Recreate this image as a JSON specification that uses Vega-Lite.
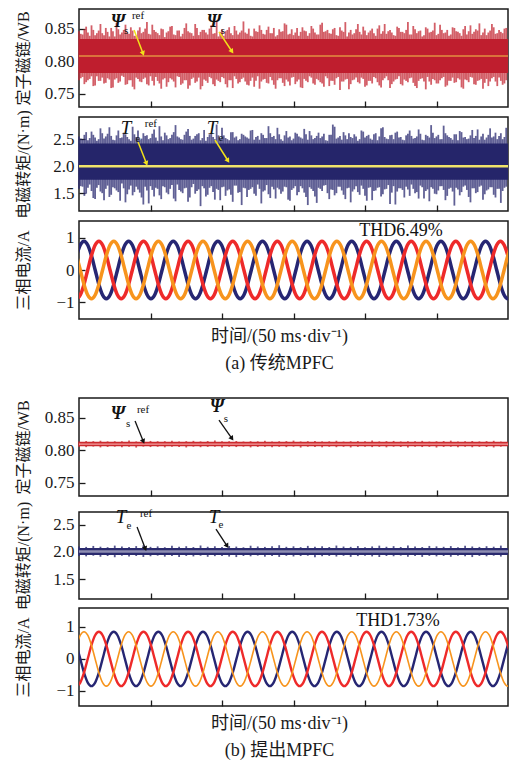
{
"$schema":"https://vega.github.io/schema/vega-lite/v6.json",
"background":"white",
"padding":{"left":14,"top":8,"right":3,"bottom":0},
"config":{
"view":{"stroke":"#1a1a1a","strokeWidth":1.5},
"font":"Liberation Serif",
"axis":{"domain":false,"grid":false,"tickSize":-6,"tickColor":"#1a1a1a","tickWidth":1.3,"labelFont":"Liberation Serif","labelFontSize":17,"labelColor":"#1a1a1a","labelPadding":11,"titleFont":"Liberation Serif, Noto Sans CJK SC","titleFontSize":16,"titleFontWeight":"normal","titleColor":"#1a1a1a"}
},
"datasets":{
"bands":[
{"p":"fa","x0":0,"x1":300,"lo":0.782,"hi":0.834,"ref":0.808},
{"p":"ta","x0":0,"x1":300,"lo":1.75,"hi":2.42,"ref":2.0},
{"p":"fb","x0":0,"x1":300,"lo":0.806,"hi":0.813,"ref":0.8095},
{"p":"tb","x0":0,"x1":300,"lo":1.945,"hi":2.075,"ref":2.01}
],
"arr":[
{"p":"fa","x":38.5,"y":0.848,"x2":44.8,"y2":0.812,"dir":160},
{"p":"fa","x":97.9,"y":0.845,"x2":107.0,"y2":0.815,"dir":145},
{"p":"ta","x":41.3,"y":2.447,"x2":47.2,"y2":2.05,"dir":159},
{"p":"ta","x":95.1,"y":2.484,"x2":104.2,"y2":2.10,"dir":147},
{"p":"fb","x":39.2,"y":0.8448,"x2":45.0,"y2":0.8135,"dir":158},
{"p":"fb","x":97.9,"y":0.8463,"x2":107.0,"y2":0.818,"dir":145},
{"p":"tb","x":40.6,"y":2.462,"x2":46.4,"y2":2.06,"dir":159},
{"p":"tb","x":95.8,"y":2.425,"x2":103.6,"y2":2.11,"dir":148}
],
"ann":[
{"p":"fa","k":"big","s":"Ψ","x":27.3,"y":0.860},
{"p":"fa","k":"sub","s":"s","x":32.9,"y":0.846},
{"p":"fa","k":"sub","s":"ref","x":41.3,"y":0.869},
{"p":"fa","k":"big","s":"Ψ","x":94.4,"y":0.860},
{"p":"fa","k":"sub","s":"s","x":100.7,"y":0.846},
{"p":"ta","k":"big","s":"T","x":32.9,"y":2.706},
{"p":"ta","k":"sub","s":"e","x":41.3,"y":2.503},
{"p":"ta","k":"sub","s":"ref","x":50.3,"y":2.78},
{"p":"ta","k":"big","s":"T","x":93.0,"y":2.706},
{"p":"ta","k":"sub","s":"e","x":99.3,"y":2.521},
{"p":"ca","k":"thd","s":"THD6.49%","x":225.2,"y":1.22},
{"p":"fb","k":"big","s":"Ψ","x":27.3,"y":0.8555},
{"p":"fb","k":"sub","s":"s","x":34.3,"y":0.840},
{"p":"fb","k":"sub","s":"ref","x":44.8,"y":0.8616},
{"p":"fb","k":"big","s":"Ψ","x":96.5,"y":0.866},
{"p":"fb","k":"sub","s":"s","x":102.8,"y":0.8479},
{"p":"tb","k":"big","s":"T","x":29.4,"y":2.647},
{"p":"tb","k":"sub","s":"e","x":35.0,"y":2.481},
{"p":"tb","k":"sub","s":"ref","x":46.9,"y":2.703},
{"p":"tb","k":"big","s":"T","x":94.4,"y":2.647},
{"p":"tb","k":"sub","s":"e","x":99.3,"y":2.499},
{"p":"cb","k":"thd","s":"THD1.73%","x":223.1,"y":1.19}
],
"noiseA":[
{"t":0,"fu":0.846,"fl":0.771,"tu":2.55,"tl":1.58},
{"t":2.5,"fu":0.841,"fl":0.776,"tu":2.49,"tl":1.62},
{"t":5,"fu":0.853,"fl":0.768,"tu":2.63,"tl":1.49},
{"t":7.5,"fu":0.839,"fl":0.773,"tu":2.52,"tl":1.66},
{"t":10,"fu":0.848,"fl":0.762,"tu":2.58,"tl":1.41},
{"t":12.5,"fu":0.843,"fl":0.777,"tu":2.47,"tl":1.60},
{"t":15,"fu":0.857,"fl":0.770,"tu":2.70,"tl":1.53},
{"t":17.5,"fu":0.840,"fl":0.766,"tu":2.51,"tl":1.37},
{"t":20,"fu":0.845,"fl":0.774,"tu":2.60,"tl":1.64},
{"t":22.5,"fu":0.851,"fl":0.759,"tu":2.56,"tl":1.47},
{"t":25,"fu":0.838,"fl":0.772,"tu":2.48,"tl":1.59},
{"t":27.5,"fu":0.849,"fl":0.767,"tu":2.66,"tl":1.52},
{"t":30,"fu":0.844,"fl":0.778,"tu":2.53,"tl":1.68},
{"t":32.5,"fu":0.856,"fl":0.764,"tu":2.59,"tl":1.33},
{"t":35,"fu":0.842,"fl":0.771,"tu":2.50,"tl":1.57},
{"t":37.5,"fu":0.847,"fl":0.761,"tu":2.73,"tl":1.46},
{"t":40,"fu":0.839,"fl":0.775,"tu":2.54,"tl":1.62},
{"t":42.5,"fu":0.852,"fl":0.769,"tu":2.49,"tl":1.51},
{"t":45,"fu":0.845,"fl":0.773,"tu":2.61,"tl":1.29},
{"t":47.5,"fu":0.860,"fl":0.765,"tu":2.57,"tl":1.55},
{"t":50,"fu":0.841,"fl":0.777,"tu":2.52,"tl":1.63},
{"t":52.5,"fu":0.848,"fl":0.763,"tu":2.68,"tl":1.44},
{"t":55,"fu":0.843,"fl":0.770,"tu":2.47,"tl":1.58},
{"t":57.5,"fu":0.850,"fl":0.758,"tu":2.55,"tl":1.39},
{"t":60,"fu":0.837,"fl":0.774,"tu":2.62,"tl":1.61},
{"t":62.5,"fu":0.846,"fl":0.768,"tu":2.50,"tl":1.48},
{"t":65,"fu":0.854,"fl":0.772,"tu":2.58,"tl":1.65},
{"t":67.5,"fu":0.840,"fl":0.760,"tu":2.76,"tl":1.35},
{"t":70,"fu":0.847,"fl":0.776,"tu":2.53,"tl":1.56},
{"t":72.5,"fu":0.842,"fl":0.766,"tu":2.49,"tl":1.50},
{"t":75,"fu":0.858,"fl":0.771,"tu":2.64,"tl":1.60},
{"t":77.5,"fu":0.844,"fl":0.763,"tu":2.56,"tl":1.42},
{"t":80,"fu":0.839,"fl":0.775,"tu":2.51,"tl":1.67},
{"t":82.5,"fu":0.851,"fl":0.769,"tu":2.59,"tl":1.54},
{"t":85,"fu":0.845,"fl":0.757,"tu":2.48,"tl":1.26},
{"t":87.5,"fu":0.848,"fl":0.772,"tu":2.67,"tl":1.59},
{"t":90,"fu":0.841,"fl":0.767,"tu":2.54,"tl":1.47},
{"t":92.5,"fu":0.855,"fl":0.774,"tu":2.60,"tl":1.63},
{"t":95,"fu":0.843,"fl":0.762,"tu":2.50,"tl":1.38},
{"t":97.5,"fu":0.838,"fl":0.770,"tu":2.57,"tl":1.56},
{"t":100,"fu":0.849,"fl":0.776,"tu":2.71,"tl":1.61},
{"t":102.5,"fu":0.846,"fl":0.765,"tu":2.52,"tl":1.45},
{"t":105,"fu":0.852,"fl":0.771,"tu":2.48,"tl":1.57},
{"t":107.5,"fu":0.840,"fl":0.759,"tu":2.63,"tl":1.34},
{"t":110,"fu":0.847,"fl":0.773,"tu":2.55,"tl":1.64},
{"t":112.5,"fu":0.844,"fl":0.768,"tu":2.50,"tl":1.52},
{"t":115,"fu":0.861,"fl":0.775,"tu":2.58,"tl":1.60},
{"t":117.5,"fu":0.842,"fl":0.764,"tu":2.53,"tl":1.43},
{"t":120,"fu":0.839,"fl":0.770,"tu":2.66,"tl":1.58},
{"t":122.5,"fu":0.850,"fl":0.761,"tu":2.49,"tl":1.49},
{"t":125,"fu":0.845,"fl":0.777,"tu":2.56,"tl":1.66},
{"t":127.5,"fu":0.848,"fl":0.769,"tu":2.61,"tl":1.31},
{"t":130,"fu":0.841,"fl":0.773,"tu":2.52,"tl":1.55},
{"t":132.5,"fu":0.853,"fl":0.766,"tu":2.74,"tl":1.48},
{"t":135,"fu":0.843,"fl":0.771,"tu":2.54,"tl":1.62},
{"t":137.5,"fu":0.838,"fl":0.758,"tu":2.50,"tl":1.40},
{"t":140,"fu":0.849,"fl":0.774,"tu":2.59,"tl":1.57},
{"t":142.5,"fu":0.846,"fl":0.767,"tu":2.47,"tl":1.53},
{"t":145,"fu":0.856,"fl":0.772,"tu":2.65,"tl":1.61},
{"t":147.5,"fu":0.842,"fl":0.763,"tu":2.55,"tl":1.36},
{"t":150,"fu":0.840,"fl":0.776,"tu":2.51,"tl":1.59},
{"t":152.5,"fu":0.851,"fl":0.769,"tu":2.60,"tl":1.46},
{"t":155,"fu":0.845,"fl":0.760,"tu":2.53,"tl":1.63},
{"t":157.5,"fu":0.847,"fl":0.773,"tu":2.69,"tl":1.51},
{"t":160,"fu":0.839,"fl":0.768,"tu":2.49,"tl":1.28},
{"t":162.5,"fu":0.854,"fl":0.775,"tu":2.57,"tl":1.58},
{"t":165,"fu":0.844,"fl":0.764,"tu":2.52,"tl":1.44},
{"t":167.5,"fu":0.841,"fl":0.771,"tu":2.62,"tl":1.60},
{"t":170,"fu":0.859,"fl":0.766,"tu":2.55,"tl":1.54},
{"t":172.5,"fu":0.846,"fl":0.777,"tu":2.48,"tl":1.65},
{"t":175,"fu":0.843,"fl":0.762,"tu":2.58,"tl":1.39},
{"t":177.5,"fu":0.849,"fl":0.770,"tu":2.77,"tl":1.56},
{"t":180,"fu":0.840,"fl":0.774,"tu":2.51,"tl":1.50},
{"t":182.5,"fu":0.852,"fl":0.756,"tu":2.56,"tl":1.62},
{"t":185,"fu":0.845,"fl":0.769,"tu":2.63,"tl":1.47},
{"t":187.5,"fu":0.838,"fl":0.773,"tu":2.50,"tl":1.59},
{"t":190,"fu":0.848,"fl":0.765,"tu":2.54,"tl":1.33},
{"t":192.5,"fu":0.843,"fl":0.772,"tu":2.59,"tl":1.57},
{"t":195,"fu":0.857,"fl":0.768,"tu":2.47,"tl":1.52},
{"t":197.5,"fu":0.841,"fl":0.775,"tu":2.66,"tl":1.64},
{"t":200,"fu":0.847,"fl":0.761,"tu":2.53,"tl":1.45},
{"t":202.5,"fu":0.844,"fl":0.770,"tu":2.58,"tl":1.60},
{"t":205,"fu":0.850,"fl":0.766,"tu":2.49,"tl":1.37},
{"t":207.5,"fu":0.839,"fl":0.774,"tu":2.61,"tl":1.55},
{"t":210,"fu":0.855,"fl":0.763,"tu":2.55,"tl":1.61},
{"t":212.5,"fu":0.846,"fl":0.771,"tu":2.72,"tl":1.48},
{"t":215,"fu":0.842,"fl":0.777,"tu":2.51,"tl":1.58},
{"t":217.5,"fu":0.848,"fl":0.759,"tu":2.57,"tl":1.30},
{"t":220,"fu":0.840,"fl":0.769,"tu":2.50,"tl":1.63},
{"t":222.5,"fu":0.853,"fl":0.773,"tu":2.64,"tl":1.53},
{"t":225,"fu":0.845,"fl":0.765,"tu":2.54,"tl":1.59},
{"t":227.5,"fu":0.843,"fl":0.772,"tu":2.48,"tl":1.42},
{"t":230,"fu":0.860,"fl":0.768,"tu":2.60,"tl":1.57},
{"t":232.5,"fu":0.841,"fl":0.775,"tu":2.56,"tl":1.66},
{"t":235,"fu":0.849,"fl":0.762,"tu":2.52,"tl":1.50},
{"t":237.5,"fu":0.846,"fl":0.770,"tu":2.68,"tl":1.40},
{"t":240,"fu":0.838,"fl":0.774,"tu":2.49,"tl":1.61},
{"t":242.5,"fu":0.852,"fl":0.757,"tu":2.58,"tl":1.54},
{"t":245,"fu":0.844,"fl":0.769,"tu":2.53,"tl":1.35},
{"t":247.5,"fu":0.847,"fl":0.773,"tu":2.62,"tl":1.58},
{"t":250,"fu":0.840,"fl":0.766,"tu":2.55,"tl":1.48},
{"t":252.5,"fu":0.856,"fl":0.771,"tu":2.50,"tl":1.63},
{"t":255,"fu":0.843,"fl":0.776,"tu":2.75,"tl":1.56},
{"t":257.5,"fu":0.848,"fl":0.763,"tu":2.57,"tl":1.45},
{"t":260,"fu":0.841,"fl":0.770,"tu":2.52,"tl":1.60},
{"t":262.5,"fu":0.851,"fl":0.767,"tu":2.59,"tl":1.27},
{"t":265,"fu":0.845,"fl":0.774,"tu":2.48,"tl":1.57},
{"t":267.5,"fu":0.839,"fl":0.760,"tu":2.63,"tl":1.52},
{"t":270,"fu":0.854,"fl":0.772,"tu":2.54,"tl":1.64},
{"t":272.5,"fu":0.846,"fl":0.768,"tu":2.51,"tl":1.43},
{"t":275,"fu":0.842,"fl":0.775,"tu":2.67,"tl":1.59},
{"t":277.5,"fu":0.849,"fl":0.764,"tu":2.56,"tl":1.50},
{"t":280,"fu":0.858,"fl":0.771,"tu":2.49,"tl":1.62},
{"t":282.5,"fu":0.844,"fl":0.758,"tu":2.60,"tl":1.38},
{"t":285,"fu":0.840,"fl":0.773,"tu":2.53,"tl":1.55},
{"t":287.5,"fu":0.847,"fl":0.769,"tu":2.70,"tl":1.61},
{"t":290,"fu":0.852,"fl":0.776,"tu":2.55,"tl":1.47},
{"t":292.5,"fu":0.843,"fl":0.762,"tu":2.50,"tl":1.58},
{"t":295,"fu":0.845,"fl":0.770,"tu":2.61,"tl":1.32},
{"t":297.5,"fu":0.850,"fl":0.766,"tu":2.54,"tl":1.60},
{"t":1.25,"fu":0.842,"fl":0.774,"tu":2.51,"tl":1.63},
{"t":3.75,"fu":0.849,"fl":0.765,"tu":2.58,"tl":1.45},
{"t":6.25,"fu":0.844,"fl":0.771,"tu":2.48,"tl":1.60},
{"t":8.75,"fu":0.855,"fl":0.777,"tu":2.64,"tl":1.54},
{"t":11.25,"fu":0.840,"fl":0.763,"tu":2.53,"tl":1.39},
{"t":13.75,"fu":0.847,"fl":0.770,"tu":2.50,"tl":1.65},
{"t":16.25,"fu":0.843,"fl":0.775,"tu":2.61,"tl":1.50},
{"t":18.75,"fu":0.851,"fl":0.767,"tu":2.55,"tl":1.58},
{"t":21.25,"fu":0.838,"fl":0.772,"tu":2.72,"tl":1.43},
{"t":23.75,"fu":0.846,"fl":0.760,"tu":2.49,"tl":1.61},
{"t":26.25,"fu":0.859,"fl":0.774,"tu":2.57,"tl":1.55},
{"t":28.75,"fu":0.841,"fl":0.769,"tu":2.52,"tl":1.36},
{"t":31.25,"fu":0.848,"fl":0.776,"tu":2.62,"tl":1.59},
{"t":33.75,"fu":0.844,"fl":0.765,"tu":2.54,"tl":1.48},
{"t":36.25,"fu":0.852,"fl":0.771,"tu":2.47,"tl":1.64},
{"t":38.75,"fu":0.839,"fl":0.757,"tu":2.59,"tl":1.52},
{"t":41.25,"fu":0.847,"fl":0.773,"tu":2.66,"tl":1.57},
{"t":43.75,"fu":0.843,"fl":0.768,"tu":2.51,"tl":1.42},
{"t":46.25,"fu":0.850,"fl":0.775,"tu":2.56,"tl":1.62},
{"t":48.75,"fu":0.842,"fl":0.763,"tu":2.50,"tl":1.31},
{"t":51.25,"fu":0.856,"fl":0.770,"tu":2.60,"tl":1.56},
{"t":53.75,"fu":0.845,"fl":0.776,"tu":2.53,"tl":1.60},
{"t":56.25,"fu":0.840,"fl":0.766,"tu":2.74,"tl":1.46},
{"t":58.75,"fu":0.849,"fl":0.772,"tu":2.48,"tl":1.63},
{"t":61.25,"fu":0.844,"fl":0.761,"tu":2.57,"tl":1.51},
{"t":63.75,"fu":0.853,"fl":0.774,"tu":2.52,"tl":1.58},
{"t":66.25,"fu":0.841,"fl":0.769,"tu":2.63,"tl":1.40},
{"t":68.75,"fu":0.847,"fl":0.777,"tu":2.55,"tl":1.66},
{"t":71.25,"fu":0.838,"fl":0.764,"tu":2.50,"tl":1.53},
{"t":73.75,"fu":0.851,"fl":0.771,"tu":2.58,"tl":1.59},
{"t":76.25,"fu":0.846,"fl":0.758,"tu":2.69,"tl":1.34},
{"t":78.75,"fu":0.843,"fl":0.773,"tu":2.49,"tl":1.61},
{"t":81.25,"fu":0.857,"fl":0.767,"tu":2.56,"tl":1.49},
{"t":83.75,"fu":0.840,"fl":0.775,"tu":2.61,"tl":1.57},
{"t":86.25,"fu":0.848,"fl":0.762,"tu":2.52,"tl":1.63},
{"t":88.75,"fu":0.844,"fl":0.770,"tu":2.47,"tl":1.44},
{"t":91.25,"fu":0.850,"fl":0.776,"tu":2.59,"tl":1.60},
{"t":93.75,"fu":0.842,"fl":0.765,"tu":2.54,"tl":1.52},
{"t":96.25,"fu":0.862,"fl":0.772,"tu":2.77,"tl":1.58},
{"t":98.75,"fu":0.845,"fl":0.768,"tu":2.51,"tl":1.37},
{"t":101.25,"fu":0.839,"fl":0.774,"tu":2.57,"tl":1.62},
{"t":103.75,"fu":0.848,"fl":0.760,"tu":2.50,"tl":1.55},
{"t":106.25,"fu":0.843,"fl":0.771,"tu":2.63,"tl":1.47},
{"t":108.75,"fu":0.854,"fl":0.777,"tu":2.53,"tl":1.64},
{"t":111.25,"fu":0.841,"fl":0.766,"tu":2.48,"tl":1.51},
{"t":113.75,"fu":0.847,"fl":0.773,"tu":2.60,"tl":1.28},
{"t":116.25,"fu":0.844,"fl":0.769,"tu":2.55,"tl":1.59},
{"t":118.75,"fu":0.850,"fl":0.763,"tu":2.51,"tl":1.56},
{"t":121.25,"fu":0.838,"fl":0.775,"tu":2.67,"tl":1.61},
{"t":123.75,"fu":0.846,"fl":0.770,"tu":2.54,"tl":1.45},
{"t":126.25,"fu":0.855,"fl":0.758,"tu":2.49,"tl":1.58},
{"t":128.75,"fu":0.842,"fl":0.772,"tu":2.58,"tl":1.53},
{"t":131.25,"fu":0.848,"fl":0.767,"tu":2.52,"tl":1.65},
{"t":133.75,"fu":0.843,"fl":0.776,"tu":2.61,"tl":1.41},
{"t":136.25,"fu":0.851,"fl":0.764,"tu":2.56,"tl":1.57},
{"t":138.75,"fu":0.840,"fl":0.771,"tu":2.71,"tl":1.60},
{"t":141.25,"fu":0.845,"fl":0.774,"tu":2.50,"tl":1.49},
{"t":143.75,"fu":0.858,"fl":0.762,"tu":2.57,"tl":1.62},
{"t":146.25,"fu":0.841,"fl":0.769,"tu":2.53,"tl":1.38},
{"t":148.75,"fu":0.849,"fl":0.775,"tu":2.48,"tl":1.56},
{"t":151.25,"fu":0.844,"fl":0.765,"tu":2.62,"tl":1.63},
{"t":153.75,"fu":0.839,"fl":0.772,"tu":2.55,"tl":1.52},
{"t":156.25,"fu":0.852,"fl":0.759,"tu":2.51,"tl":1.59},
{"t":158.75,"fu":0.846,"fl":0.770,"tu":2.59,"tl":1.43},
{"t":161.25,"fu":0.843,"fl":0.777,"tu":2.65,"tl":1.61},
{"t":163.75,"fu":0.850,"fl":0.766,"tu":2.50,"tl":1.54},
{"t":166.25,"fu":0.841,"fl":0.773,"tu":2.56,"tl":1.32},
{"t":168.75,"fu":0.856,"fl":0.768,"tu":2.52,"tl":1.58},
{"t":171.25,"fu":0.845,"fl":0.761,"tu":2.60,"tl":1.64},
{"t":173.75,"fu":0.848,"fl":0.774,"tu":2.47,"tl":1.50},
{"t":176.25,"fu":0.842,"fl":0.770,"tu":2.58,"tl":1.57},
{"t":178.75,"fu":0.851,"fl":0.764,"tu":2.73,"tl":1.46},
{"t":181.25,"fu":0.839,"fl":0.776,"tu":2.53,"tl":1.62},
{"t":183.75,"fu":0.847,"fl":0.769,"tu":2.49,"tl":1.55},
{"t":186.25,"fu":0.860,"fl":0.772,"tu":2.57,"tl":1.39},
{"t":188.75,"fu":0.844,"fl":0.757,"tu":2.61,"tl":1.60},
{"t":191.25,"fu":0.841,"fl":0.771,"tu":2.52,"tl":1.53},
{"t":193.75,"fu":0.849,"fl":0.775,"tu":2.55,"tl":1.63},
{"t":196.25,"fu":0.845,"fl":0.766,"tu":2.50,"tl":1.47},
{"t":198.75,"fu":0.853,"fl":0.773,"tu":2.64,"tl":1.58},
{"t":201.25,"fu":0.840,"fl":0.763,"tu":2.56,"tl":1.36},
{"t":203.75,"fu":0.847,"fl":0.770,"tu":2.51,"tl":1.61},
{"t":206.25,"fu":0.843,"fl":0.776,"tu":2.59,"tl":1.54},
{"t":208.75,"fu":0.850,"fl":0.768,"tu":2.48,"tl":1.60},
{"t":211.25,"fu":0.842,"fl":0.760,"tu":2.70,"tl":1.44},
{"t":213.75,"fu":0.857,"fl":0.774,"tu":2.54,"tl":1.57},
{"t":216.25,"fu":0.846,"fl":0.771,"tu":2.50,"tl":1.65},
{"t":218.75,"fu":0.844,"fl":0.765,"tu":2.58,"tl":1.51},
{"t":221.25,"fu":0.839,"fl":0.772,"tu":2.62,"tl":1.29},
{"t":223.75,"fu":0.851,"fl":0.777,"tu":2.53,"tl":1.59},
{"t":226.25,"fu":0.845,"fl":0.763,"tu":2.49,"tl":1.56},
{"t":228.75,"fu":0.848,"fl":0.770,"tu":2.57,"tl":1.62},
{"t":231.25,"fu":0.841,"fl":0.774,"tu":2.66,"tl":1.45},
{"t":233.75,"fu":0.854,"fl":0.767,"tu":2.51,"tl":1.58},
{"t":236.25,"fu":0.843,"fl":0.759,"tu":2.55,"tl":1.52},
{"t":238.75,"fu":0.847,"fl":0.773,"tu":2.60,"tl":1.64},
{"t":241.25,"fu":0.840,"fl":0.769,"tu":2.48,"tl":1.40},
{"t":243.75,"fu":0.850,"fl":0.776,"tu":2.56,"tl":1.57},
{"t":246.25,"fu":0.845,"fl":0.764,"tu":2.76,"tl":1.61},
{"t":248.75,"fu":0.859,"fl":0.771,"tu":2.52,"tl":1.49},
{"t":251.25,"fu":0.842,"fl":0.766,"tu":2.58,"tl":1.55},
{"t":253.75,"fu":0.848,"fl":0.774,"tu":2.50,"tl":1.63},
{"t":256.25,"fu":0.844,"fl":0.761,"tu":2.61,"tl":1.37},
{"t":258.75,"fu":0.839,"fl":0.770,"tu":2.54,"tl":1.58},
{"t":261.25,"fu":0.852,"fl":0.775,"tu":2.49,"tl":1.53},
{"t":263.75,"fu":0.846,"fl":0.768,"tu":2.59,"tl":1.60},
{"t":266.25,"fu":0.843,"fl":0.772,"tu":2.65,"tl":1.46},
{"t":268.75,"fu":0.849,"fl":0.758,"tu":2.53,"tl":1.62},
{"t":271.25,"fu":0.841,"fl":0.771,"tu":2.50,"tl":1.56},
{"t":273.75,"fu":0.855,"fl":0.776,"tu":2.57,"tl":1.33},
{"t":276.25,"fu":0.845,"fl":0.765,"tu":2.52,"tl":1.59},
{"t":278.75,"fu":0.847,"fl":0.770,"tu":2.68,"tl":1.52},
{"t":281.25,"fu":0.840,"fl":0.773,"tu":2.55,"tl":1.64},
{"t":283.75,"fu":0.850,"fl":0.767,"tu":2.49,"tl":1.48},
{"t":286.25,"fu":0.844,"fl":0.762,"tu":2.58,"tl":1.57},
{"t":288.75,"fu":0.857,"fl":0.774,"tu":2.53,"tl":1.61},
{"t":291.25,"fu":0.842,"fl":0.769,"tu":2.62,"tl":1.42},
{"t":293.75,"fu":0.848,"fl":0.775,"tu":2.56,"tl":1.58},
{"t":296.25,"fu":0.843,"fl":0.764,"tu":2.50,"tl":1.54},
{"t":298.75,"fu":0.851,"fl":0.771,"tu":2.71,"tl":1.62}
],
"noiseB":[
{"t":0,"fu":0.8134,"fl":0.8053,"tu":2.101,"tl":1.928},
{"t":5,"fu":0.8141,"fl":0.8048,"tu":2.094,"tl":1.919},
{"t":10,"fu":0.8139,"fl":0.8057,"tu":2.112,"tl":1.931},
{"t":15,"fu":0.8146,"fl":0.8044,"tu":2.098,"tl":1.912},
{"t":20,"fu":0.8136,"fl":0.8051,"tu":2.089,"tl":1.925},
{"t":25,"fu":0.8138,"fl":0.8055,"tu":2.118,"tl":1.903},
{"t":30,"fu":0.8137,"fl":0.8046,"tu":2.103,"tl":1.929},
{"t":35,"fu":0.8149,"fl":0.8053,"tu":2.092,"tl":1.917},
{"t":40,"fu":0.8135,"fl":0.8041,"tu":2.109,"tl":1.926},
{"t":45,"fu":0.8140,"fl":0.8056,"tu":2.123,"tl":1.908},
{"t":50,"fu":0.8143,"fl":0.8049,"tu":2.095,"tl":1.921},
{"t":55,"fu":0.8138,"fl":0.8054,"tu":2.104,"tl":1.932},
{"t":60,"fu":0.8139,"fl":0.8045,"tu":2.088,"tl":1.914},
{"t":65,"fu":0.8147,"fl":0.8052,"tu":2.115,"tl":1.924},
{"t":70,"fu":0.8133,"fl":0.8050,"tu":2.099,"tl":1.905},
{"t":75,"fu":0.8139,"fl":0.8043,"tu":2.107,"tl":1.927},
{"t":80,"fu":0.8144,"fl":0.8055,"tu":2.091,"tl":1.918},
{"t":85,"fu":0.8136,"fl":0.8047,"tu":2.120,"tl":1.930},
{"t":90,"fu":0.8141,"fl":0.8052,"tu":2.097,"tl":1.911},
{"t":95,"fu":0.8150,"fl":0.8054,"tu":2.106,"tl":1.923},
{"t":100,"fu":0.8137,"fl":0.8042,"tu":2.093,"tl":1.928},
{"t":105,"fu":0.8138,"fl":0.8054,"tu":2.111,"tl":1.915},
{"t":110,"fu":0.8142,"fl":0.8049,"tu":2.100,"tl":1.906},
{"t":115,"fu":0.8134,"fl":0.8055,"tu":2.087,"tl":1.926},
{"t":120,"fu":0.8139,"fl":0.8044,"tu":2.116,"tl":1.920},
{"t":125,"fu":0.8137,"fl":0.8051,"tu":2.102,"tl":1.933},
{"t":130,"fu":0.8145,"fl":0.8053,"tu":2.094,"tl":1.913},
{"t":135,"fu":0.8136,"fl":0.8046,"tu":2.108,"tl":1.924},
{"t":140,"fu":0.8138,"fl":0.8053,"tu":2.125,"tl":1.909},
{"t":145,"fu":0.8140,"fl":0.8048,"tu":2.096,"tl":1.929},
{"t":150,"fu":0.8148,"fl":0.8055,"tu":2.105,"tl":1.917},
{"t":155,"fu":0.8135,"fl":0.8041,"tu":2.090,"tl":1.925},
{"t":160,"fu":0.8139,"fl":0.8054,"tu":2.113,"tl":1.931},
{"t":165,"fu":0.8141,"fl":0.8050,"tu":2.099,"tl":1.904},
{"t":170,"fu":0.8136,"fl":0.8045,"tu":2.106,"tl":1.922},
{"t":175,"fu":0.8137,"fl":0.8054,"tu":2.092,"tl":1.927},
{"t":180,"fu":0.8146,"fl":0.8047,"tu":2.119,"tl":1.916},
{"t":185,"fu":0.8133,"fl":0.8053,"tu":2.101,"tl":1.929},
{"t":190,"fu":0.8138,"fl":0.8043,"tu":2.095,"tl":1.910},
{"t":195,"fu":0.8140,"fl":0.8052,"tu":2.110,"tl":1.924},
{"t":200,"fu":0.8137,"fl":0.8055,"tu":2.088,"tl":1.930},
{"t":205,"fu":0.8149,"fl":0.8048,"tu":2.103,"tl":1.918},
{"t":210,"fu":0.8136,"fl":0.8053,"tu":2.117,"tl":1.907},
{"t":215,"fu":0.8140,"fl":0.8045,"tu":2.097,"tl":1.926},
{"t":220,"fu":0.8143,"fl":0.8054,"tu":2.108,"tl":1.921},
{"t":225,"fu":0.8135,"fl":0.8050,"tu":2.093,"tl":1.932},
{"t":230,"fu":0.8137,"fl":0.8044,"tu":2.121,"tl":1.914},
{"t":235,"fu":0.8139,"fl":0.8055,"tu":2.100,"tl":1.925},
{"t":240,"fu":0.8144,"fl":0.8049,"tu":2.091,"tl":1.909},
{"t":245,"fu":0.8133,"fl":0.8053,"tu":2.112,"tl":1.928},
{"t":250,"fu":0.8138,"fl":0.8042,"tu":2.104,"tl":1.919},
{"t":255,"fu":0.8141,"fl":0.8051,"tu":2.096,"tl":1.926},
{"t":260,"fu":0.8147,"fl":0.8054,"tu":2.109,"tl":1.912},
{"t":265,"fu":0.8134,"fl":0.8047,"tu":2.089,"tl":1.929},
{"t":270,"fu":0.8139,"fl":0.8054,"tu":2.115,"tl":1.923},
{"t":275,"fu":0.8142,"fl":0.8046,"tu":2.102,"tl":1.906},
{"t":280,"fu":0.8136,"fl":0.8053,"tu":2.094,"tl":1.927},
{"t":285,"fu":0.8140,"fl":0.8050,"tu":2.107,"tl":1.920},
{"t":290,"fu":0.8145,"fl":0.8043,"tu":2.098,"tl":1.931},
{"t":295,"fu":0.8133,"fl":0.8055,"tu":2.118,"tl":1.915}
],
"cur":[
{"t":-1.7,"a1":0.45,"a2":-0.9,"a3":0.45,"b1":0.43,"b2":-0.85,"b3":0.43},
{"t":0.9,"a1":0.78,"a2":-0.78,"a3":0,"b1":0,"b2":-0.74,"b3":0.74},
{"t":3.5,"a1":0.9,"a2":-0.45,"a3":-0.45,"b1":-0.43,"b2":-0.43,"b3":0.85},
{"t":6.1,"a1":0.78,"a2":0,"a3":-0.78,"b1":-0.74,"b2":0,"b3":0.74},
{"t":8.7,"a1":0.45,"a2":0.45,"a3":-0.9,"b1":-0.85,"b2":0.43,"b3":0.43},
{"t":11.3,"a1":0,"a2":0.78,"a3":-0.78,"b1":-0.74,"b2":0.74,"b3":0},
{"t":13.9,"a1":-0.45,"a2":0.9,"a3":-0.45,"b1":-0.43,"b2":0.85,"b3":-0.43},
{"t":16.5,"a1":-0.78,"a2":0.78,"a3":0,"b1":0,"b2":0.74,"b3":-0.74},
{"t":19.1,"a1":-0.9,"a2":0.45,"a3":0.45,"b1":0.43,"b2":0.43,"b3":-0.85},
{"t":21.7,"a1":-0.78,"a2":0,"a3":0.78,"b1":0.74,"b2":0,"b3":-0.74},
{"t":24.3,"a1":-0.45,"a2":-0.45,"a3":0.9,"b1":0.85,"b2":-0.43,"b3":-0.43},
{"t":26.9,"a1":0,"a2":-0.78,"a3":0.78,"b1":0.74,"b2":-0.74,"b3":0},
{"t":29.5,"a1":0.45,"a2":-0.9,"a3":0.45,"b1":0.43,"b2":-0.85,"b3":0.43},
{"t":32.1,"a1":0.78,"a2":-0.78,"a3":0,"b1":0,"b2":-0.74,"b3":0.74},
{"t":34.7,"a1":0.9,"a2":-0.45,"a3":-0.45,"b1":-0.43,"b2":-0.43,"b3":0.85},
{"t":37.3,"a1":0.78,"a2":0,"a3":-0.78,"b1":-0.74,"b2":0,"b3":0.74},
{"t":39.9,"a1":0.45,"a2":0.45,"a3":-0.9,"b1":-0.85,"b2":0.43,"b3":0.43},
{"t":42.5,"a1":0,"a2":0.78,"a3":-0.78,"b1":-0.74,"b2":0.74,"b3":0},
{"t":45.1,"a1":-0.45,"a2":0.9,"a3":-0.45,"b1":-0.43,"b2":0.85,"b3":-0.43},
{"t":47.7,"a1":-0.78,"a2":0.78,"a3":0,"b1":0,"b2":0.74,"b3":-0.74},
{"t":50.3,"a1":-0.9,"a2":0.45,"a3":0.45,"b1":0.43,"b2":0.43,"b3":-0.85},
{"t":52.9,"a1":-0.78,"a2":0,"a3":0.78,"b1":0.74,"b2":0,"b3":-0.74},
{"t":55.5,"a1":-0.45,"a2":-0.45,"a3":0.9,"b1":0.85,"b2":-0.43,"b3":-0.43},
{"t":58.1,"a1":0,"a2":-0.78,"a3":0.78,"b1":0.74,"b2":-0.74,"b3":0},
{"t":60.7,"a1":0.45,"a2":-0.9,"a3":0.45,"b1":0.43,"b2":-0.85,"b3":0.43},
{"t":63.3,"a1":0.78,"a2":-0.78,"a3":0,"b1":0,"b2":-0.74,"b3":0.74},
{"t":65.9,"a1":0.9,"a2":-0.45,"a3":-0.45,"b1":-0.43,"b2":-0.43,"b3":0.85},
{"t":68.5,"a1":0.78,"a2":0,"a3":-0.78,"b1":-0.74,"b2":0,"b3":0.74},
{"t":71.1,"a1":0.45,"a2":0.45,"a3":-0.9,"b1":-0.85,"b2":0.43,"b3":0.43},
{"t":73.7,"a1":0,"a2":0.78,"a3":-0.78,"b1":-0.74,"b2":0.74,"b3":0},
{"t":76.3,"a1":-0.45,"a2":0.9,"a3":-0.45,"b1":-0.43,"b2":0.85,"b3":-0.43},
{"t":78.9,"a1":-0.78,"a2":0.78,"a3":0,"b1":0,"b2":0.74,"b3":-0.74},
{"t":81.5,"a1":-0.9,"a2":0.45,"a3":0.45,"b1":0.43,"b2":0.43,"b3":-0.85},
{"t":84.1,"a1":-0.78,"a2":0,"a3":0.78,"b1":0.74,"b2":0,"b3":-0.74},
{"t":86.7,"a1":-0.45,"a2":-0.45,"a3":0.9,"b1":0.85,"b2":-0.43,"b3":-0.43},
{"t":89.3,"a1":0,"a2":-0.78,"a3":0.78,"b1":0.74,"b2":-0.74,"b3":0},
{"t":91.9,"a1":0.45,"a2":-0.9,"a3":0.45,"b1":0.43,"b2":-0.85,"b3":0.43},
{"t":94.5,"a1":0.78,"a2":-0.78,"a3":0,"b1":0,"b2":-0.74,"b3":0.74},
{"t":97.1,"a1":0.9,"a2":-0.45,"a3":-0.45,"b1":-0.43,"b2":-0.43,"b3":0.85},
{"t":99.7,"a1":0.78,"a2":0,"a3":-0.78,"b1":-0.74,"b2":0,"b3":0.74},
{"t":102.3,"a1":0.45,"a2":0.45,"a3":-0.9,"b1":-0.85,"b2":0.43,"b3":0.43},
{"t":104.9,"a1":0,"a2":0.78,"a3":-0.78,"b1":-0.74,"b2":0.74,"b3":0},
{"t":107.5,"a1":-0.45,"a2":0.9,"a3":-0.45,"b1":-0.43,"b2":0.85,"b3":-0.43},
{"t":110.1,"a1":-0.78,"a2":0.78,"a3":0,"b1":0,"b2":0.74,"b3":-0.74},
{"t":112.7,"a1":-0.9,"a2":0.45,"a3":0.45,"b1":0.43,"b2":0.43,"b3":-0.85},
{"t":115.3,"a1":-0.78,"a2":0,"a3":0.78,"b1":0.74,"b2":0,"b3":-0.74},
{"t":117.9,"a1":-0.45,"a2":-0.45,"a3":0.9,"b1":0.85,"b2":-0.43,"b3":-0.43},
{"t":120.5,"a1":0,"a2":-0.78,"a3":0.78,"b1":0.74,"b2":-0.74,"b3":0},
{"t":123.1,"a1":0.45,"a2":-0.9,"a3":0.45,"b1":0.43,"b2":-0.85,"b3":0.43},
{"t":125.7,"a1":0.78,"a2":-0.78,"a3":0,"b1":0,"b2":-0.74,"b3":0.74},
{"t":128.3,"a1":0.9,"a2":-0.45,"a3":-0.45,"b1":-0.43,"b2":-0.43,"b3":0.85},
{"t":130.9,"a1":0.78,"a2":0,"a3":-0.78,"b1":-0.74,"b2":0,"b3":0.74},
{"t":133.5,"a1":0.45,"a2":0.45,"a3":-0.9,"b1":-0.85,"b2":0.43,"b3":0.43},
{"t":136.1,"a1":0,"a2":0.78,"a3":-0.78,"b1":-0.74,"b2":0.74,"b3":0},
{"t":138.7,"a1":-0.45,"a2":0.9,"a3":-0.45,"b1":-0.43,"b2":0.85,"b3":-0.43},
{"t":141.3,"a1":-0.78,"a2":0.78,"a3":0,"b1":0,"b2":0.74,"b3":-0.74},
{"t":143.9,"a1":-0.9,"a2":0.45,"a3":0.45,"b1":0.43,"b2":0.43,"b3":-0.85},
{"t":146.5,"a1":-0.78,"a2":0,"a3":0.78,"b1":0.74,"b2":0,"b3":-0.74},
{"t":149.1,"a1":-0.45,"a2":-0.45,"a3":0.9,"b1":0.85,"b2":-0.43,"b3":-0.43},
{"t":151.7,"a1":0,"a2":-0.78,"a3":0.78,"b1":0.74,"b2":-0.74,"b3":0},
{"t":154.3,"a1":0.45,"a2":-0.9,"a3":0.45,"b1":0.43,"b2":-0.85,"b3":0.43},
{"t":156.9,"a1":0.78,"a2":-0.78,"a3":0,"b1":0,"b2":-0.74,"b3":0.74},
{"t":159.5,"a1":0.9,"a2":-0.45,"a3":-0.45,"b1":-0.43,"b2":-0.43,"b3":0.85},
{"t":162.1,"a1":0.78,"a2":0,"a3":-0.78,"b1":-0.74,"b2":0,"b3":0.74},
{"t":164.7,"a1":0.45,"a2":0.45,"a3":-0.9,"b1":-0.85,"b2":0.43,"b3":0.43},
{"t":167.3,"a1":0,"a2":0.78,"a3":-0.78,"b1":-0.74,"b2":0.74,"b3":0},
{"t":169.9,"a1":-0.45,"a2":0.9,"a3":-0.45,"b1":-0.43,"b2":0.85,"b3":-0.43},
{"t":172.5,"a1":-0.78,"a2":0.78,"a3":0,"b1":0,"b2":0.74,"b3":-0.74},
{"t":175.1,"a1":-0.9,"a2":0.45,"a3":0.45,"b1":0.43,"b2":0.43,"b3":-0.85},
{"t":177.7,"a1":-0.78,"a2":0,"a3":0.78,"b1":0.74,"b2":0,"b3":-0.74},
{"t":180.3,"a1":-0.45,"a2":-0.45,"a3":0.9,"b1":0.85,"b2":-0.43,"b3":-0.43},
{"t":182.9,"a1":0,"a2":-0.78,"a3":0.78,"b1":0.74,"b2":-0.74,"b3":0},
{"t":185.5,"a1":0.45,"a2":-0.9,"a3":0.45,"b1":0.43,"b2":-0.85,"b3":0.43},
{"t":188.1,"a1":0.78,"a2":-0.78,"a3":0,"b1":0,"b2":-0.74,"b3":0.74},
{"t":190.7,"a1":0.9,"a2":-0.45,"a3":-0.45,"b1":-0.43,"b2":-0.43,"b3":0.85},
{"t":193.3,"a1":0.78,"a2":0,"a3":-0.78,"b1":-0.74,"b2":0,"b3":0.74},
{"t":195.9,"a1":0.45,"a2":0.45,"a3":-0.9,"b1":-0.85,"b2":0.43,"b3":0.43},
{"t":198.5,"a1":0,"a2":0.78,"a3":-0.78,"b1":-0.74,"b2":0.74,"b3":0},
{"t":201.1,"a1":-0.45,"a2":0.9,"a3":-0.45,"b1":-0.43,"b2":0.85,"b3":-0.43},
{"t":203.7,"a1":-0.78,"a2":0.78,"a3":0,"b1":0,"b2":0.74,"b3":-0.74},
{"t":206.3,"a1":-0.9,"a2":0.45,"a3":0.45,"b1":0.43,"b2":0.43,"b3":-0.85},
{"t":208.9,"a1":-0.78,"a2":0,"a3":0.78,"b1":0.74,"b2":0,"b3":-0.74},
{"t":211.5,"a1":-0.45,"a2":-0.45,"a3":0.9,"b1":0.85,"b2":-0.43,"b3":-0.43},
{"t":214.1,"a1":0,"a2":-0.78,"a3":0.78,"b1":0.74,"b2":-0.74,"b3":0},
{"t":216.7,"a1":0.45,"a2":-0.9,"a3":0.45,"b1":0.43,"b2":-0.85,"b3":0.43},
{"t":219.3,"a1":0.78,"a2":-0.78,"a3":0,"b1":0,"b2":-0.74,"b3":0.74},
{"t":221.9,"a1":0.9,"a2":-0.45,"a3":-0.45,"b1":-0.43,"b2":-0.43,"b3":0.85},
{"t":224.5,"a1":0.78,"a2":0,"a3":-0.78,"b1":-0.74,"b2":0,"b3":0.74},
{"t":227.1,"a1":0.45,"a2":0.45,"a3":-0.9,"b1":-0.85,"b2":0.43,"b3":0.43},
{"t":229.7,"a1":0,"a2":0.78,"a3":-0.78,"b1":-0.74,"b2":0.74,"b3":0},
{"t":232.3,"a1":-0.45,"a2":0.9,"a3":-0.45,"b1":-0.43,"b2":0.85,"b3":-0.43},
{"t":234.9,"a1":-0.78,"a2":0.78,"a3":0,"b1":0,"b2":0.74,"b3":-0.74},
{"t":237.5,"a1":-0.9,"a2":0.45,"a3":0.45,"b1":0.43,"b2":0.43,"b3":-0.85},
{"t":240.1,"a1":-0.78,"a2":0,"a3":0.78,"b1":0.74,"b2":0,"b3":-0.74},
{"t":242.7,"a1":-0.45,"a2":-0.45,"a3":0.9,"b1":0.85,"b2":-0.43,"b3":-0.43},
{"t":245.3,"a1":0,"a2":-0.78,"a3":0.78,"b1":0.74,"b2":-0.74,"b3":0},
{"t":247.9,"a1":0.45,"a2":-0.9,"a3":0.45,"b1":0.43,"b2":-0.85,"b3":0.43},
{"t":250.5,"a1":0.78,"a2":-0.78,"a3":0,"b1":0,"b2":-0.74,"b3":0.74},
{"t":253.1,"a1":0.9,"a2":-0.45,"a3":-0.45,"b1":-0.43,"b2":-0.43,"b3":0.85},
{"t":255.7,"a1":0.78,"a2":0,"a3":-0.78,"b1":-0.74,"b2":0,"b3":0.74},
{"t":258.3,"a1":0.45,"a2":0.45,"a3":-0.9,"b1":-0.85,"b2":0.43,"b3":0.43},
{"t":260.9,"a1":0,"a2":0.78,"a3":-0.78,"b1":-0.74,"b2":0.74,"b3":0},
{"t":263.5,"a1":-0.45,"a2":0.9,"a3":-0.45,"b1":-0.43,"b2":0.85,"b3":-0.43},
{"t":266.1,"a1":-0.78,"a2":0.78,"a3":0,"b1":0,"b2":0.74,"b3":-0.74},
{"t":268.7,"a1":-0.9,"a2":0.45,"a3":0.45,"b1":0.43,"b2":0.43,"b3":-0.85},
{"t":271.3,"a1":-0.78,"a2":0,"a3":0.78,"b1":0.74,"b2":0,"b3":-0.74},
{"t":273.9,"a1":-0.45,"a2":-0.45,"a3":0.9,"b1":0.85,"b2":-0.43,"b3":-0.43},
{"t":276.5,"a1":0,"a2":-0.78,"a3":0.78,"b1":0.74,"b2":-0.74,"b3":0},
{"t":279.1,"a1":0.45,"a2":-0.9,"a3":0.45,"b1":0.43,"b2":-0.85,"b3":0.43},
{"t":281.7,"a1":0.78,"a2":-0.78,"a3":0,"b1":0,"b2":-0.74,"b3":0.74},
{"t":284.3,"a1":0.9,"a2":-0.45,"a3":-0.45,"b1":-0.43,"b2":-0.43,"b3":0.85},
{"t":286.9,"a1":0.78,"a2":0,"a3":-0.78,"b1":-0.74,"b2":0,"b3":0.74},
{"t":289.5,"a1":0.45,"a2":0.45,"a3":-0.9,"b1":-0.85,"b2":0.43,"b3":0.43},
{"t":292.1,"a1":0,"a2":0.78,"a3":-0.78,"b1":-0.74,"b2":0.74,"b3":0},
{"t":294.7,"a1":-0.45,"a2":0.9,"a3":-0.45,"b1":-0.43,"b2":0.85,"b3":-0.43},
{"t":297.3,"a1":-0.78,"a2":0.78,"a3":0,"b1":0,"b2":0.74,"b3":-0.74},
{"t":299.9,"a1":-0.9,"a2":0.45,"a3":0.45,"b1":0.43,"b2":0.43,"b3":-0.85},
{"t":302.5,"a1":-0.78,"a2":0,"a3":0.78,"b1":0.74,"b2":0,"b3":-0.74}
]
},
"vconcat":[
{"spacing":10,"bounds":"flush","vconcat":[
{"width":429,"height":98,"layer":[
{"data":{"name":"noiseA"},"mark":{"type":"rule","color":"#c42a35","opacity":0.75,"strokeWidth":1.8},
"encoding":{"x":{"field":"t","type":"quantitative","scale":{"domain":[0,300],"nice":false,"zero":false},"axis":{"values":[50,100,150,200,250],"labels":false,"title":null}},
"y":{"field":"fl","type":"quantitative","scale":{"domain":[0.73,0.88],"nice":false,"zero":false},"axis":{"values":[0.75,0.8,0.85],"format":".2f","title":"定子磁链/WB","titleX":-56,"titleY":49,"titleAngle":-90,"titleBaseline":"middle","titleAlign":"center"}},
"y2":{"field":"fu"}}},
{"data":{"name":"bands"},"transform":[{"filter":"datum.p==='fa'"}],"mark":{"type":"rect","color":"#bf1e2e"},
"encoding":{"x":{"field":"x0","type":"quantitative"},"x2":{"field":"x1"},"y":{"field":"lo","type":"quantitative"},"y2":{"field":"hi"}}},
{"data":{"name":"bands"},"transform":[{"filter":"datum.p==='fa'"}],"mark":{"type":"rule","color":"#e39040","strokeWidth":1.5},
"encoding":{"y":{"field":"ref","type":"quantitative"}}},
{"data":{"name":"arr"},"transform":[{"filter":"datum.p==='fa'"}],"mark":{"type":"rule","color":"#f2e21a","strokeWidth":1.5},
"encoding":{"x":{"field":"x","type":"quantitative"},"y":{"field":"y","type":"quantitative"},"x2":{"field":"x2"},"y2":{"field":"y2"}}},
{"data":{"name":"arr"},"transform":[{"filter":"datum.p==='fa'"}],"mark":{"type":"point","shape":"triangle-up","filled":true,"color":"#f2e21a","size":30,"opacity":1},
"encoding":{"x":{"field":"x2","type":"quantitative"},"y":{"field":"y2","type":"quantitative"},"angle":{"field":"dir","type":"quantitative","scale":null}}},
{"data":{"name":"ann"},"transform":[{"filter":"datum.p==='fa' && datum.k==='big'"}],"mark":{"type":"text","font":"Liberation Serif","fontSize":18,"fontWeight":"bold","fontStyle":"italic","color":"#111"},
"encoding":{"x":{"field":"x","type":"quantitative"},"y":{"field":"y","type":"quantitative"},"text":{"field":"s"}}},
{"data":{"name":"ann"},"transform":[{"filter":"datum.p==='fa' && datum.k==='sub'"}],"mark":{"type":"text","font":"Liberation Serif","fontSize":11,"color":"#111"},
"encoding":{"x":{"field":"x","type":"quantitative"},"y":{"field":"y","type":"quantitative"},"text":{"field":"s"}}}
]},
{"width":429,"height":94,"layer":[
{"data":{"name":"noiseA"},"mark":{"type":"rule","color":"#2b2b72","opacity":0.75,"strokeWidth":1.8},
"encoding":{"x":{"field":"t","type":"quantitative","scale":{"domain":[0,300],"nice":false,"zero":false},"axis":{"values":[50,100,150,200,250],"labels":false,"title":null}},
"y":{"field":"tl","type":"quantitative","scale":{"domain":[1.17,2.91],"nice":false,"zero":false},"axis":{"values":[1.5,2.0,2.5],"format":".1f","title":"电磁转矩/(N·m)","titleX":-56,"titleY":47,"titleAngle":-90,"titleBaseline":"middle","titleAlign":"center"}},
"y2":{"field":"tu"}}},
{"data":{"name":"bands"},"transform":[{"filter":"datum.p==='ta'"}],"mark":{"type":"rect","color":"#25256a"},
"encoding":{"x":{"field":"x0","type":"quantitative"},"x2":{"field":"x1"},"y":{"field":"lo","type":"quantitative"},"y2":{"field":"hi"}}},
{"data":{"name":"bands"},"transform":[{"filter":"datum.p==='ta'"}],"mark":{"type":"rule","color":"#f0e36a","strokeWidth":2.5},
"encoding":{"y":{"field":"ref","type":"quantitative"}}},
{"data":{"name":"arr"},"transform":[{"filter":"datum.p==='ta'"}],"mark":{"type":"rule","color":"#f2e21a","strokeWidth":1.5},
"encoding":{"x":{"field":"x","type":"quantitative"},"y":{"field":"y","type":"quantitative"},"x2":{"field":"x2"},"y2":{"field":"y2"}}},
{"data":{"name":"arr"},"transform":[{"filter":"datum.p==='ta'"}],"mark":{"type":"point","shape":"triangle-up","filled":true,"color":"#f2e21a","size":30,"opacity":1},
"encoding":{"x":{"field":"x2","type":"quantitative"},"y":{"field":"y2","type":"quantitative"},"angle":{"field":"dir","type":"quantitative","scale":null}}},
{"data":{"name":"ann"},"transform":[{"filter":"datum.p==='ta' && datum.k==='big'"}],"mark":{"type":"text","font":"Liberation Serif","fontSize":19,"fontStyle":"italic","color":"#111"},
"encoding":{"x":{"field":"x","type":"quantitative"},"y":{"field":"y","type":"quantitative"},"text":{"field":"s"}}},
{"data":{"name":"ann"},"transform":[{"filter":"datum.p==='ta' && datum.k==='sub'"}],"mark":{"type":"text","font":"Liberation Serif","fontSize":11,"color":"#111"},
"encoding":{"x":{"field":"x","type":"quantitative"},"y":{"field":"y","type":"quantitative"},"text":{"field":"s"}}}
]},
{"width":429,"height":98,"layer":[
{"data":{"name":"cur"},"mark":{"type":"line","color":"#262673","strokeWidth":3.5,"interpolate":"monotone","clip":true},
"encoding":{"x":{"field":"t","type":"quantitative","scale":{"domain":[0,300],"nice":false,"zero":false},"axis":{"values":[50,100,150,200,250],"labels":false,"title":["时间/(50 ms·div⁻¹)","(a) 传统MPFC"],"titleX":200,"titleAlign":"center","titleBaseline":"top","titlePadding":8,"titleLineHeight":27,"titleFontSize":18}},
"y":{"field":"a1","type":"quantitative","scale":{"domain":[-1.53,1.53],"nice":false,"zero":false},"axis":{"values":[-1,0,1],"title":"三相电流/A","titleX":-56,"titleY":49,"titleAngle":-90,"titleBaseline":"middle","titleAlign":"center"}}}},
{"data":{"name":"cur"},"mark":{"type":"line","color":"#ee2a2a","strokeWidth":3.5,"interpolate":"monotone","clip":true},
"encoding":{"x":{"field":"t","type":"quantitative"},"y":{"field":"a2","type":"quantitative"}}},
{"data":{"name":"cur"},"mark":{"type":"line","color":"#f7941d","strokeWidth":3.5,"interpolate":"monotone","clip":true},
"encoding":{"x":{"field":"t","type":"quantitative"},"y":{"field":"a3","type":"quantitative"}}},
{"data":{"name":"ann"},"transform":[{"filter":"datum.p==='ca'"}],"mark":{"type":"text","font":"Liberation Serif","fontSize":18,"color":"#111"},
"encoding":{"x":{"field":"x","type":"quantitative"},"y":{"field":"y","type":"quantitative"},"text":{"field":"s"}}}
]}
]},
{"spacing":2,"vconcat":[
{"width":429,"height":98,"layer":[
{"data":{"name":"noiseB"},"mark":{"type":"rule","color":"#c82a30","opacity":0.8,"strokeWidth":1.8},
"encoding":{"x":{"field":"t","type":"quantitative","scale":{"domain":[0,300],"nice":false,"zero":false},"axis":{"values":[50,100,150,200,250],"labels":false,"title":null}},
"y":{"field":"fl","type":"quantitative","scale":{"domain":[0.73,0.88],"nice":false,"zero":false},"axis":{"values":[0.75,0.8,0.85],"format":".2f","title":"定子磁链/WB","titleX":-56,"titleY":49,"titleAngle":-90,"titleBaseline":"middle","titleAlign":"center"}},
"y2":{"field":"fu"}}},
{"data":{"name":"bands"},"transform":[{"filter":"datum.p==='fb'"}],"mark":{"type":"rect","color":"#cc2a2e"},
"encoding":{"x":{"field":"x0","type":"quantitative"},"x2":{"field":"x1"},"y":{"field":"lo","type":"quantitative"},"y2":{"field":"hi"}}},
{"data":{"name":"bands"},"transform":[{"filter":"datum.p==='fb'"}],"mark":{"type":"rule","color":"#f4a0a0","strokeWidth":1.2},
"encoding":{"y":{"field":"ref","type":"quantitative"}}},
{"data":{"name":"arr"},"transform":[{"filter":"datum.p==='fb'"}],"mark":{"type":"rule","color":"#111","strokeWidth":1.3},
"encoding":{"x":{"field":"x","type":"quantitative"},"y":{"field":"y","type":"quantitative"},"x2":{"field":"x2"},"y2":{"field":"y2"}}},
{"data":{"name":"arr"},"transform":[{"filter":"datum.p==='fb'"}],"mark":{"type":"point","shape":"triangle-up","filled":true,"color":"#111","size":30,"opacity":1},
"encoding":{"x":{"field":"x2","type":"quantitative"},"y":{"field":"y2","type":"quantitative"},"angle":{"field":"dir","type":"quantitative","scale":null}}},
{"data":{"name":"ann"},"transform":[{"filter":"datum.p==='fb' && datum.k==='big'"}],"mark":{"type":"text","font":"Liberation Serif","fontSize":18,"fontWeight":"bold","fontStyle":"italic","color":"#111"},
"encoding":{"x":{"field":"x","type":"quantitative"},"y":{"field":"y","type":"quantitative"},"text":{"field":"s"}}},
{"data":{"name":"ann"},"transform":[{"filter":"datum.p==='fb' && datum.k==='sub'"}],"mark":{"type":"text","font":"Liberation Serif","fontSize":11,"color":"#111"},
"encoding":{"x":{"field":"x","type":"quantitative"},"y":{"field":"y","type":"quantitative"},"text":{"field":"s"}}}
]},
{"spacing":9,"bounds":"flush","vconcat":[
{"width":429,"height":87,"layer":[
{"data":{"name":"noiseB"},"mark":{"type":"rule","color":"#2b2b72","opacity":0.8,"strokeWidth":1.8},
"encoding":{"x":{"field":"t","type":"quantitative","scale":{"domain":[0,300],"nice":false,"zero":false},"axis":{"values":[50,100,150,200,250],"labels":false,"title":null}},
"y":{"field":"tl","type":"quantitative","scale":{"domain":[1.13,2.74],"nice":false,"zero":false},"axis":{"values":[1.5,2.0,2.5],"format":".1f","title":"电磁转矩/(N·m)","titleX":-56,"titleY":43.5,"titleAngle":-90,"titleBaseline":"middle","titleAlign":"center"}},
"y2":{"field":"tu"}}},
{"data":{"name":"bands"},"transform":[{"filter":"datum.p==='tb'"}],"mark":{"type":"rect","color":"#2a2a6e"},
"encoding":{"x":{"field":"x0","type":"quantitative"},"x2":{"field":"x1"},"y":{"field":"lo","type":"quantitative"},"y2":{"field":"hi"}}},
{"data":{"name":"bands"},"transform":[{"filter":"datum.p==='tb'"}],"mark":{"type":"rule","color":"#8e8eb2","strokeWidth":2.5},
"encoding":{"y":{"field":"ref","type":"quantitative"}}},
{"data":{"name":"arr"},"transform":[{"filter":"datum.p==='tb'"}],"mark":{"type":"rule","color":"#111","strokeWidth":1.3},
"encoding":{"x":{"field":"x","type":"quantitative"},"y":{"field":"y","type":"quantitative"},"x2":{"field":"x2"},"y2":{"field":"y2"}}},
{"data":{"name":"arr"},"transform":[{"filter":"datum.p==='tb'"}],"mark":{"type":"point","shape":"triangle-up","filled":true,"color":"#111","size":30,"opacity":1},
"encoding":{"x":{"field":"x2","type":"quantitative"},"y":{"field":"y2","type":"quantitative"},"angle":{"field":"dir","type":"quantitative","scale":null}}},
{"data":{"name":"ann"},"transform":[{"filter":"datum.p==='tb' && datum.k==='big'"}],"mark":{"type":"text","font":"Liberation Serif","fontSize":19,"fontStyle":"italic","color":"#111"},
"encoding":{"x":{"field":"x","type":"quantitative"},"y":{"field":"y","type":"quantitative"},"text":{"field":"s"}}},
{"data":{"name":"ann"},"transform":[{"filter":"datum.p==='tb' && datum.k==='sub'"}],"mark":{"type":"text","font":"Liberation Serif","fontSize":11,"color":"#111"},
"encoding":{"x":{"field":"x","type":"quantitative"},"y":{"field":"y","type":"quantitative"},"text":{"field":"s"}}}
]},
{"width":429,"height":98,"layer":[
{"data":{"name":"cur"},"mark":{"type":"line","color":"#262673","strokeWidth":2.4,"interpolate":"monotone","clip":true},
"encoding":{"x":{"field":"t","type":"quantitative","scale":{"domain":[0,300],"nice":false,"zero":false},"axis":{"values":[50,100,150,200,250],"labels":false,"title":["时间/(50 ms·div⁻¹)","(b) 提出MPFC"],"titleX":200,"titleAlign":"center","titleBaseline":"top","titlePadding":8,"titleLineHeight":27,"titleFontSize":18}},
"y":{"field":"b1","type":"quantitative","scale":{"domain":[-1.47,1.59],"nice":false,"zero":false},"axis":{"values":[-1,0,1],"title":"三相电流/A","titleX":-56,"titleY":49,"titleAngle":-90,"titleBaseline":"middle","titleAlign":"center"}}}},
{"data":{"name":"cur"},"mark":{"type":"line","color":"#ee2a2a","strokeWidth":2.4,"interpolate":"monotone","clip":true},
"encoding":{"x":{"field":"t","type":"quantitative"},"y":{"field":"b2","type":"quantitative"}}},
{"data":{"name":"cur"},"mark":{"type":"line","color":"#f7941d","strokeWidth":1.6,"interpolate":"monotone","clip":true},
"encoding":{"x":{"field":"t","type":"quantitative"},"y":{"field":"b3","type":"quantitative"}}},
{"data":{"name":"ann"},"transform":[{"filter":"datum.p==='cb'"}],"mark":{"type":"text","font":"Liberation Serif","fontSize":18,"color":"#111"},
"encoding":{"x":{"field":"x","type":"quantitative"},"y":{"field":"y","type":"quantitative"},"text":{"field":"s"}}}
]}
]}
]}
],
"spacing":23
}
